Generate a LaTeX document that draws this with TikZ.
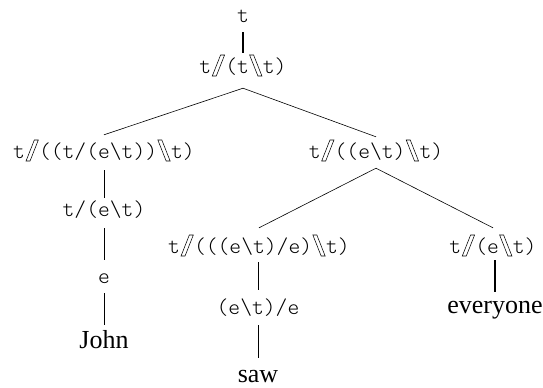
\documentclass[tikz,border=0pt]{standalone}
\usepackage{fontspec}
\newfontfamily\rmjohn{Liberation Serif}
\newcommand{\fdsl}{\tikz[baseline=0bp,x=1bp,y=1bp]{\useasboundingbox (0,-3) rectangle (14,18);\draw[line width=0.55bp,line join=miter] (1,-3)--(5,-3)--(13.3,18)--(9.3,18)--cycle;}}
\newcommand{\bdsl}{\tikz[baseline=0bp,x=1bp,y=1bp]{\useasboundingbox (0,-3) rectangle (14,18);\draw[line width=0.55bp,line join=miter] (9,-3)--(13,-3)--(4.7,18)--(0.7,18)--cycle;}}
\tikzset{
 cat/.style={font=\ttfamily\fontseries{l}\fontsize{22.5bp}{27bp}\selectfont, inner sep=0pt, text height=20bp, text depth=7bp, anchor=base},
 word/.style={font=\rmjohn\fontsize{26bp}{30bp}\selectfont, inner sep=0pt, text height=18bp, text depth=1bp, anchor=base},
 br/.style={line width=0.6bp},
 thk/.style={line width=1.7bp}
}
\begin{document}
\begin{tikzpicture}[x=1bp,y=1bp]
\useasboundingbox (0,0) rectangle (543,-387);
\node[cat] (top) at (243,-22) {t};
\node[cat] (root) at (243,-73) {t\fdsl(t\bdsl t)};
\node[cat] (L) at (104,-158) {t\fdsl((t/(e\textbackslash t))\bdsl t)};
\node[cat] (R) at (376,-158) {t\fdsl((e\textbackslash t)\bdsl t)};
\node[cat] (L1) at (104,-216) {t/(e\textbackslash t)};
\node[cat] (L2) at (104,-283) {e};
\node[word] (john) at (104,-348) {John};
\node[cat] (RL) at (259,-253) {t\fdsl(((e\textbackslash t)/e)\bdsl t)};
\node[cat] (RL1) at (258,-314) {(e\textbackslash t)/e};
\node[word] (saw) at (258,-382) {saw};
\node[cat] (RR) at (493,-253) {t\fdsl(e\bdsl t)};
\node[word] (every) at (495,-313) {everyone};
\draw[thk] ([yshift=-3bp]top.south) -- (root.north);
\draw[br] ([yshift=-8bp]root.south) -- ([yshift=3bp]L.north);
\draw[br] ([yshift=-8bp]root.south) -- ([yshift=1bp]R.north);
\draw[br] ([yshift=-5bp]L.south) -- ([yshift=-2bp]L1.north);
\draw[br] ([yshift=-5bp]L1.south) -- ([yshift=3bp]L2.north);
\draw[br] ([yshift=-3bp]L2.south) -- ([yshift=5bp]john.north);
\draw[br] ([yshift=-3bp]R.south) -- ([yshift=5bp]RL.north);
\draw[br] ([yshift=-3bp]R.south) -- ([yshift=5bp]RR.north);
\draw[br] ([yshift=-2bp]RL1.north |- RL.south) -- ([yshift=4bp]RL1.north);
\draw[br] ([yshift=-4bp]RL1.south) -- ([yshift=6bp]saw.north);
\draw[thk] ([yshift=0bp]every.north |- RR.south) -- ([yshift=3bp]every.north);
\end{tikzpicture}
\end{document}
